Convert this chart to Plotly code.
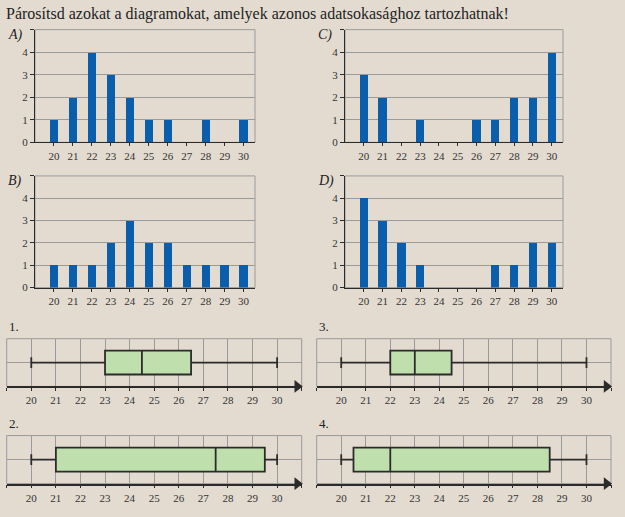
import plotly.graph_objects as go

W, H = 625, 517

# histogram data
values = list(range(20, 31))
counts_a = [1, 2, 4, 3, 2, 1, 1, 0, 1, 0, 1]
counts_b = [1, 1, 1, 2, 3, 2, 2, 1, 1, 1, 1]
counts_c = [3, 2, 0, 1, 0, 0, 1, 1, 2, 2, 4]
counts_d = [4, 3, 2, 1, 0, 0, 0, 1, 1, 2, 2]
hist_labels = ["A)", "B)", "C)", "D)"]

# box plot data: min, q1, median, q3, max
box_min = [20, 20, 20, 20]
box_q1 = [23, 21, 22, 20.5]
box_med = [24.5, 27.5, 23, 22]
box_q3 = [26.5, 29.5, 24.5, 28.5]
box_max = [30, 30, 30, 30]
box_labels = ["1.", "2.", "3.", "4."]

title = "Párosítsd azokat a diagramokat, amelyek azonos adatsokasághoz tartozhatnak!"

BG = "#e3dbd0"
BAR = "#0b5eac"
GREEN = "#bfe0ad"
DARK = "#2b2b2b"
GRID = "#9a9a9a"
SERIF = "Liberation Serif"
AXIS_END = 31


def px_x(p):
    return p / W


def px_y(p):
    return 1 - p / H


def ax_ids(n):
    s = "" if n == 1 else str(n)
    return f"xaxis{s}", f"yaxis{s}", f"x{s}", f"y{s}"


fig = go.Figure()

# pixel boxes: (left, right, top, bottom)
hist_boxes = [(35, 255, 30, 144), (35, 255, 178, 291),
              (345, 563, 30, 144), (345, 563, 178, 291)]
hist_counts = [counts_a, counts_b, counts_c, counts_d]
box_boxes = [(6.7, 301.7, 342.7, 391), (6.7, 301.7, 440.7, 489.3),
             (316.7, 611, 342.7, 391), (316.7, 611, 440.7, 489.3)]

tick_font = dict(family=SERIF, size=11, color="#333")

layout = {}
n = 0
for i, (l, r, t, b) in enumerate(hist_boxes):
    n += 1
    xa, ya, xr, yr = ax_ids(n)
    fig.add_trace(go.Bar(x=values, y=hist_counts[i], width=0.44,
                         marker=dict(color=BAR, line_width=0),
                         xaxis=xr, yaxis=yr, showlegend=False))
    layout[xa] = dict(domain=[px_x(l), px_x(r)], anchor=yr, range=[19, 30.6],
                      tickvals=values, showgrid=False, zeroline=False,
                      showline=True, linecolor=DARK, linewidth=1.3,
                      ticks="outside", ticklen=3, tickcolor=DARK,
                      tickfont=tick_font)
    layout[ya] = dict(domain=[px_y(b), px_y(t)], anchor=xr, range=[0, 5],
                      tickvals=[0, 1, 2, 3, 4, 5], ticktext=["0", "1", "2", "3", "4", ""],
                      showgrid=True, gridcolor=GRID, gridwidth=1, zeroline=False,
                      showline=True, linecolor=DARK, linewidth=1.3,
                      ticks="outside", ticklen=4, tickcolor=DARK,
                      tickfont=tick_font)
    fig.add_shape(type="rect", xref=f"{xr} domain", yref=f"{yr} domain",
                  x0=0, x1=1, y0=0, y1=1, line=dict(color=GRID, width=1), layer="below")
    fig.add_annotation(text=f"<i>{hist_labels[i]}</i>", xref="paper", yref="paper",
                       x=px_x(l - 29), y=px_y(t - 5), xanchor="left", yanchor="top",
                       showarrow=False, font=dict(family=SERIF, size=14, color="#222"))

grid_ticks = list(range(19, AXIS_END + 1))
grid_text = [""] + [str(v) for v in range(20, 31)] + [""]
for i, (l, r, t, b) in enumerate(box_boxes):
    n += 1
    xa, ya, xr, yr = ax_ids(n)
    fig.add_trace(go.Box(y=[1], q1=[box_q1[i]], median=[box_med[i]], q3=[box_q3[i]],
                         lowerfence=[box_min[i]], upperfence=[box_max[i]],
                         orientation="h", width=1, whiskerwidth=0.45,
                         fillcolor=GREEN, line=dict(color=DARK, width=1.8),
                         boxpoints=False, hoverinfo="skip",
                         xaxis=xr, yaxis=yr, showlegend=False))
    # arrow head at the end of the number line
    fig.add_trace(go.Scatter(x=[AXIS_END - 0.18], y=[0], mode="markers", cliponaxis=False,
                             marker=dict(symbol="triangle-right", size=11, color=DARK),
                             xaxis=xr, yaxis=yr, showlegend=False, hoverinfo="skip"))
    layout[xa] = dict(domain=[px_x(l), px_x(r)], anchor=yr, range=[19, AXIS_END],
                      tickvals=grid_ticks, ticktext=grid_text,
                      showgrid=True, gridcolor=GRID, gridwidth=1, zeroline=False,
                      showline=True, linecolor=DARK, linewidth=1.6,
                      ticks="outside", ticklen=3, tickcolor=DARK, tickwidth=1.3,
                      tickfont=tick_font)
    layout[ya] = dict(domain=[px_y(b), px_y(t)], anchor=xr, range=[0, 2],
                      tickvals=[0, 1, 2], showticklabels=False,
                      showgrid=True, gridcolor=GRID, gridwidth=1, zeroline=False,
                      showline=False, ticks="")
    fig.add_shape(type="rect", xref=f"{xr} domain", yref=f"{yr} domain",
                  x0=0, x1=1, y0=0, y1=1, line=dict(color=GRID, width=1), layer="below")
    fig.add_annotation(text=box_labels[i], xref="paper", yref="paper",
                       x=px_x(l), y=px_y(t - 3), xanchor="left", yanchor="bottom",
                       showarrow=False, font=dict(family=SERIF, size=13, color="#222"))

fig.add_annotation(text=title, xref="paper", yref="paper", x=px_x(4), y=px_y(3),
                   xanchor="left", yanchor="top", showarrow=False,
                   font=dict(family=SERIF, size=16, color="#222"))

fig.update_layout(width=W, height=H, margin=dict(l=0, r=0, t=0, b=0),
                  paper_bgcolor=BG, plot_bgcolor=BG, bargap=0, **layout)

fig.write_html("out.html", config={"displayModeBar": False},
               post_script="document.body.style.margin='0';"
                           "document.body.style.background='" + BG + "';")
